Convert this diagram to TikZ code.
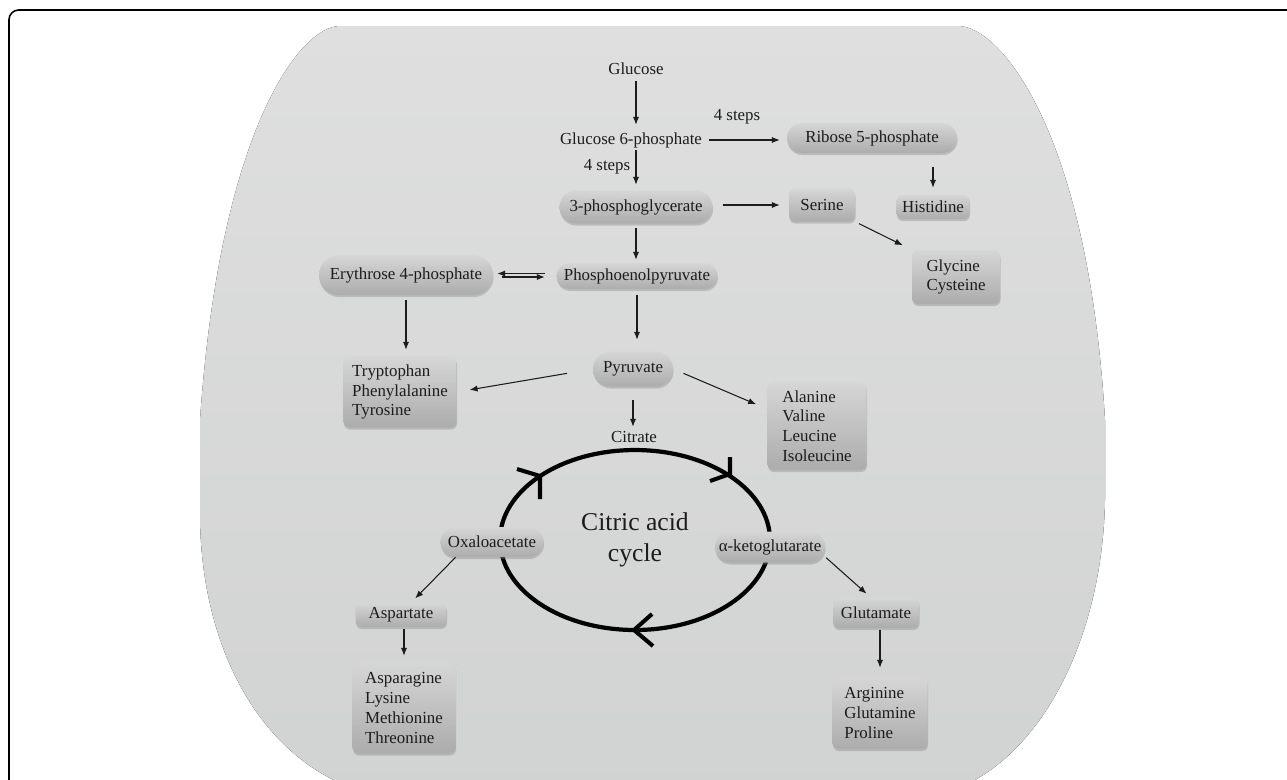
\documentclass[tikz,border=0pt]{standalone}
\usepackage{fontspec}
\setmainfont{Liberation Serif}
\usepackage{tikz}
\usetikzlibrary{arrows.meta,calc,positioning,shapes.geometric,shapes.misc,shadows}

\definecolor{bgtop}{RGB}{222,223,222}
\definecolor{bgbot}{RGB}{209,210,210}
\definecolor{boxtop}{RGB}{214,214,214}
\definecolor{boxbot}{RGB}{172,172,172}
\definecolor{inktext}{RGB}{28,28,28}

\begin{document}
\begin{tikzpicture}[x=0.02cm,y=-0.02cm,>={Latex[length=4.5pt,width=3.6pt]},
		every node/.style={font=\fontsize{9.6}{11.3}\selectfont,text=inktext},
		lbl/.style={inner sep=0pt,minimum height=0.4cm},
		pill/.style={rounded rectangle,inner sep=0pt,top color=boxtop,bottom color=boxbot,
			drop shadow={shadow xshift=0.3pt,shadow yshift=-1.2pt,opacity=0.35}},
		box/.style={rectangle,rounded corners=3.5pt,inner sep=0pt,align=left,
			top color=boxtop,bottom color=boxbot,
			drop shadow={shadow xshift=0.3pt,shadow yshift=-1.2pt,opacity=0.35}},
		arr/.style={->,line width=0.6pt,draw=inktext},
		barb/.style={line width=2.3pt,draw=black}]
		
		\useasboundingbox (0,0) rectangle (1287,779);
		\clip (0,0) rectangle (1287,779);
		
		% Frame and grey cell
		\draw[line width=0.9pt,rounded corners=5.5pt] (9,10) rectangle (1320,820);
		\fill[top color=bgtop,bottom color=bgbot] (340,26) -- (958,26)
		.. controls (1000,26) and (1088,130) .. (1105,420) -- (1105,500)
		.. controls (1102,660) and (1020,800) .. (900,800) -- (420,800)
		.. controls (290,800) and (203,680) .. (200,520) -- (200,420)
		.. controls (220,130) and (300,26) .. (340,26) -- cycle;
		
		% Citric acid cycle
		\node[ellipse,draw=black,line width=2.4pt,inner sep=0pt,minimum width=5.4cm,
		minimum height=3.6cm,align=center,font=\fontsize{14.6}{18}\selectfont]
		(tca) at (635,540) {Citric acid\\cycle};
		\draw[barb] (517,469) -- (540,476) -- (540,499);
		\draw[barb] (710,481) -- (730,474) -- (730,457);
		\draw[barb] (652,614) -- (634,630) -- (653,646);
		
		% Upper part of the pathway
		\node[lbl] (glucose) at (636,69) {Glucose};
		\node[lbl] (gsix) at (631,140) {Glucose 6-phosphate};
		\node[lbl] (stepsa) at (737,117) {4 steps};
		\node[lbl] (stepsb) at (607,167) {4 steps};
		\node[pill,minimum width=3.4cm,minimum height=0.6cm] (ribose) at (872,138) {Ribose 5-phosphate};
		\node[pill,minimum width=3.06cm,minimum height=0.66cm] (pgly) at (636,207) {3-phosphoglycerate};
		\node[box,minimum width=1.32cm,minimum height=0.66cm] (serine) at (822,205) {Serine};
		\node[box,minimum width=1.46cm,minimum height=0.48cm] (histidine) at (933,207) {Histidine};
		\node[box,minimum width=1.76cm,minimum height=1.08cm] (glycine) at (956,277) {Glycine\\Cysteine};
		\node[pill,minimum width=3.22cm,minimum height=0.52cm] (pep) at (637,276) {Phosphoenolpyruvate};
		\node[pill,minimum width=3.48cm,minimum height=0.8cm] (ethree) at (406,275) {Erythrose 4-phosphate};
		\node[box,minimum width=2.26cm,minimum height=1.42cm] (trp) at (400,392) {Tryptophan\\Phenylalanine\\Tyrosine};
		\node[pill,minimum width=1.6cm,minimum height=0.7cm] (pyr) at (633,369) {Pyruvate};
		\node[box,minimum width=1.98cm,minimum height=1.76cm] (ala) at (817,426) {Alanine\\Valine\\Leucine\\Isoleucine};
		\node[lbl] (citrate) at (634,437) {Citrate};
		
		% Around the cycle
		\node[pill,minimum width=2.06cm,minimum height=0.6cm] (oaa) at (492,542) {Oxaloacetate};
		\node[pill,minimum width=2.2cm,minimum height=0.62cm] (akg) at (770,547) {α-ketoglutarate};
		\node[box,minimum width=1.72cm,minimum height=0.6cm] (glu) at (876,613) {Glutamate};
		\node[box,minimum width=1.9cm,minimum height=1.44cm] (arg) at (880,713) {Arginine\\Glutamine\\Proline};
		\node[box,minimum width=1.82cm,minimum height=0.48cm] (asp) at (401,615) {Aspartate};
		\node[box,minimum width=2.06cm,minimum height=1.82cm] (asn) at (404,708) {Asparagine\\Lysine\\Methionine\\Threonine};
		
		% Arrows
		\draw[arr,shorten <=0.04cm,shorten >=0.1cm] (glucose.south) -- (glucose.south |- gsix.north);
		\draw[arr,shorten <=0.14cm,shorten >=0.14cm] (gsix.east) -- (gsix.east -| ribose.west);
		\draw[arr,shorten >=0.11cm] (pgly.north |- gsix.south) -- (pgly.north);
		\draw[arr,shorten <=0.21cm,shorten >=0.18cm] (pgly.east |- serine.west) -- (serine.west);
		\draw[arr,shorten <=0.28cm,shorten >=0.14cm] (histidine.north |- ribose.south) -- (histidine.north);
		\draw[arr,shorten <=0.08cm,shorten >=0.2cm] (serine.south east) -- (glycine.north west);
		\draw[arr,shorten <=0.09cm,shorten >=0.06cm] (pgly.south) -- (pgly.south |- pep.north);
		\draw[arr,shorten <=0.23cm,shorten >=0.08cm] ([yshift=0.05cm]pep.west) -- ([yshift=0.05cm]pep.west -| ethree.east);
		\draw[arr,shorten <=0.18cm,shorten >=0.23cm] ([yshift=-0.04cm]ethree.east) -- ([yshift=-0.04cm]ethree.east -| pep.west);
		\draw[arr,shorten <=0.1cm,shorten >=0.13cm] (ethree.south) -- (ethree.south |- trp.north);
		\draw[arr,shorten <=0.12cm,shorten >=0.23cm] (pep.south) -- (pep.south |- pyr.north);
		\draw[arr,shorten <=0.52cm,shorten >=0.26cm] (pyr.west) -- (trp.east);
		\draw[arr,shorten <=0.22cm,shorten >=0.24cm] (pyr.east) -- ([yshift=0.34cm]ala.west);
		\draw[arr,shorten <=0.27cm] (pyr.south) -- (pyr.south |- citrate.north);
		\draw[arr,shorten <=0.02cm,shorten >=0.12cm] ([yshift=-0.2cm]akg.east) -- ([xshift=-0.1cm]glu.north);
		\draw[arr,shorten <=0.04cm,shorten >=0.18cm] (arg.north |- glu.south) -- (arg.north);
		\draw[arr,shorten >=0.12cm] (oaa.south west) -- ([xshift=0.2cm]asp.north);
		\draw[arr,shorten <=0.04cm,shorten >=0.13cm] (asn.north |- asp.south) -- (asn.north);
		
	\end{tikzpicture}
\end{document}
